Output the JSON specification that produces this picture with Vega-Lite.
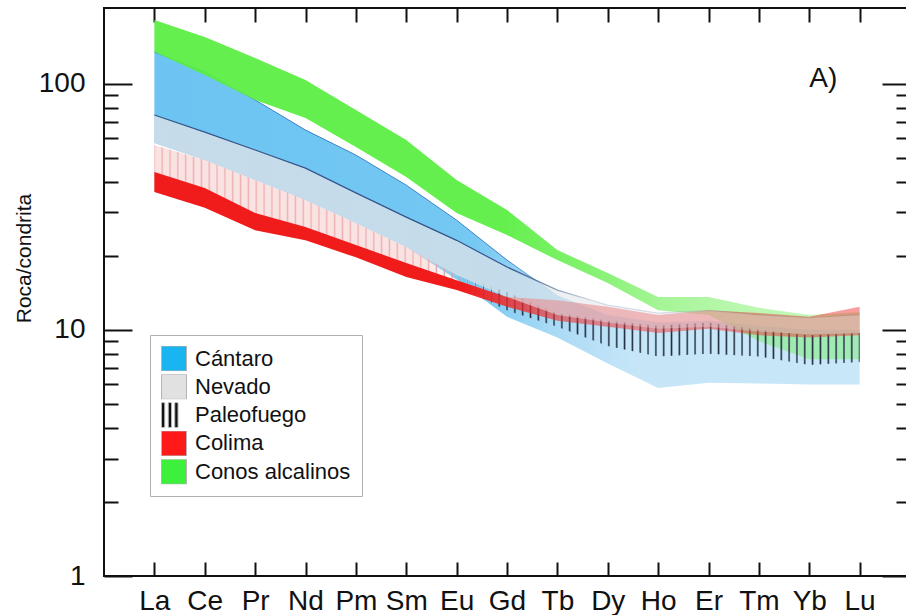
{
  "$schema": "https://vega.github.io/schema/vega-lite/v6.json",
  "width": 806,
  "height": 568,
  "autosize": "none",
  "padding": {"left": 104, "top": 8, "right": 0, "bottom": 39},
  "background": "white",
  "config": {
    "font": "Liberation Sans",
    "view": {"stroke": "#111111", "strokeWidth": 2},
    "axis": {"domain": false, "grid": false, "labelFont": "Liberation Sans", "labelColor": "#111111", "tickColor": "#111111", "tickWidth": 2, "tickCap": "butt", "titleFont": "Liberation Sans", "titleColor": "#111111", "labelOverlap": false, "zindex": 1}
  },
  "datasets": {
    "bandas": [
      {"g": "Cántaro", "el": "La", "hi": 134.5, "lo": 57.4},
      {"g": "Cántaro", "el": "Ce", "hi": 111.6, "lo": 49.0},
      {"g": "Cántaro", "el": "Pr", "hi": 85.9, "lo": 40.6},
      {"g": "Cántaro", "el": "Nd", "hi": 64.8, "lo": 33.7},
      {"g": "Cántaro", "el": "Pm", "hi": 51.3, "lo": 27.2},
      {"g": "Cántaro", "el": "Sm", "hi": 38.7, "lo": 21.7},
      {"g": "Cántaro", "el": "Eu", "hi": 27.9, "lo": 16.0},
      {"g": "Cántaro", "el": "Gd", "hi": 19.2, "lo": 11.3},
      {"g": "Cántaro", "el": "Tb", "hi": 13.8, "lo": 9.3},
      {"g": "Cántaro", "el": "Dy", "hi": 11.5, "lo": 7.3},
      {"g": "Cántaro", "el": "Ho", "hi": 10.7, "lo": 5.8},
      {"g": "Cántaro", "el": "Er", "hi": 10.9, "lo": 6.1},
      {"g": "Cántaro", "el": "Tm", "hi": 10.4, "lo": 6.05},
      {"g": "Cántaro", "el": "Yb", "hi": 10.0, "lo": 6.0},
      {"g": "Cántaro", "el": "Lu", "hi": 10.0, "lo": 6.0},

      {"g": "Nevado", "el": "La", "hi": 74.6, "lo": 57.4},
      {"g": "Nevado", "el": "Ce", "hi": 63.6, "lo": 49.0},
      {"g": "Nevado", "el": "Pr", "hi": 53.8, "lo": 40.6},
      {"g": "Nevado", "el": "Nd", "hi": 45.4, "lo": 33.7},
      {"g": "Nevado", "el": "Pm", "hi": 36.0, "lo": 27.2},
      {"g": "Nevado", "el": "Sm", "hi": 28.7, "lo": 21.7},
      {"g": "Nevado", "el": "Eu", "hi": 23.1, "lo": 16.7},
      {"g": "Nevado", "el": "Gd", "hi": 18.0, "lo": 13.6},
      {"g": "Nevado", "el": "Tb", "hi": 14.5, "lo": 11.5},
      {"g": "Nevado", "el": "Dy", "hi": 12.6, "lo": 10.7},
      {"g": "Nevado", "el": "Ho", "hi": 11.7, "lo": 10.1},
      {"g": "Nevado", "el": "Er", "hi": 12.0, "lo": 10.3},
      {"g": "Nevado", "el": "Tm", "hi": 11.5, "lo": 9.85},
      {"g": "Nevado", "el": "Yb", "hi": 11.2, "lo": 9.6},
      {"g": "Nevado", "el": "Lu", "hi": 11.5, "lo": 9.7},

      {"g": "Paleofuego", "el": "La", "hi": 56.3, "lo": 36.3},
      {"g": "Paleofuego", "el": "Ce", "hi": 49.0, "lo": 31.5},
      {"g": "Paleofuego", "el": "Pr", "hi": 40.6, "lo": 25.4},
      {"g": "Paleofuego", "el": "Nd", "hi": 33.7, "lo": 23.1},
      {"g": "Paleofuego", "el": "Pm", "hi": 27.2, "lo": 20.1},
      {"g": "Paleofuego", "el": "Sm", "hi": 21.7, "lo": 17.8},
      {"g": "Paleofuego", "el": "Eu", "hi": 16.9, "lo": 15.0},
      {"g": "Paleofuego", "el": "Gd", "hi": 14.2, "lo": 12.0},
      {"g": "Paleofuego", "el": "Tb", "hi": 11.7, "lo": 10.3},
      {"g": "Paleofuego", "el": "Dy", "hi": 10.9, "lo": 8.6},
      {"g": "Paleofuego", "el": "Ho", "hi": 10.4, "lo": 7.8},
      {"g": "Paleofuego", "el": "Er", "hi": 10.7, "lo": 8.0},
      {"g": "Paleofuego", "el": "Tm", "hi": 10.0, "lo": 7.8},
      {"g": "Paleofuego", "el": "Yb", "hi": 9.5, "lo": 7.2},
      {"g": "Paleofuego", "el": "Lu", "hi": 9.7, "lo": 7.4},

      {"g": "Colima", "el": "La", "hi": 43.8, "lo": 36.3},
      {"g": "Colima", "el": "Ce", "hi": 37.7, "lo": 31.3},
      {"g": "Colima", "el": "Pr", "hi": 29.8, "lo": 25.4},
      {"g": "Colima", "el": "Nd", "hi": 26.2, "lo": 23.1},
      {"g": "Colima", "el": "Pm", "hi": 22.1, "lo": 19.7},
      {"g": "Colima", "el": "Sm", "hi": 18.7, "lo": 16.4},
      {"g": "Colima", "el": "Eu", "hi": 15.9, "lo": 14.5},
      {"g": "Colima", "el": "Gd", "hi": 13.6, "lo": 12.4},
      {"g": "Colima", "el": "Tb", "hi": 13.2, "lo": 10.9},
      {"g": "Colima", "el": "Dy", "hi": 12.4, "lo": 10.3},
      {"g": "Colima", "el": "Ho", "hi": 11.5, "lo": 9.7},
      {"g": "Colima", "el": "Er", "hi": 12.0, "lo": 10.1},
      {"g": "Colima", "el": "Tm", "hi": 11.7, "lo": 9.5},
      {"g": "Colima", "el": "Yb", "hi": 11.3, "lo": 9.3},
      {"g": "Colima", "el": "Lu", "hi": 12.4, "lo": 9.5},

      {"g": "Conos alcalinos", "el": "La", "hi": 181.5, "lo": 134.5},
      {"g": "Conos alcalinos", "el": "Ce", "hi": 154.8, "lo": 108.5},
      {"g": "Conos alcalinos", "el": "Pr", "hi": 127.2, "lo": 85.9},
      {"g": "Conos alcalinos", "el": "Nd", "hi": 103.5, "lo": 72.6},
      {"g": "Conos alcalinos", "el": "Pm", "hi": 78.2, "lo": 55.3},
      {"g": "Conos alcalinos", "el": "Sm", "hi": 59.0, "lo": 41.8},
      {"g": "Conos alcalinos", "el": "Eu", "hi": 40.6, "lo": 29.8},
      {"g": "Conos alcalinos", "el": "Gd", "hi": 30.7, "lo": 24.3},
      {"g": "Conos alcalinos", "el": "Tb", "hi": 21.1, "lo": 19.2},
      {"g": "Conos alcalinos", "el": "Dy", "hi": 17.0, "lo": 15.5},
      {"g": "Conos alcalinos", "el": "Ho", "hi": 13.6, "lo": 12.0},
      {"g": "Conos alcalinos", "el": "Er", "hi": 13.6, "lo": 11.5},
      {"g": "Conos alcalinos", "el": "Tm", "hi": 12.3, "lo": 9.0},
      {"g": "Conos alcalinos", "el": "Yb", "hi": 11.5, "lo": 7.6},
      {"g": "Conos alcalinos", "el": "Lu", "hi": 11.8, "lo": 7.6}
    ]
  },
  "data": {"name": "bandas"},
  "encoding": {
    "x": {"field": "el", "type": "ordinal", "axis": null,
      "scale": {"type": "point", "padding": 1, "domain": ["La", "Ce", "Pr", "Nd", "Pm", "Sm", "Eu", "Gd", "Tb", "Dy", "Ho", "Er", "Tm", "Yb", "Lu"]}},
    "y": {"field": "hi", "type": "quantitative", "axis": null,
      "scale": {"type": "log", "domain": [1, 203], "nice": false}},
    "y2": {"field": "lo"}
  },
  "layer": [
    {
      "transform": [{"filter": "datum.g === 'Cántaro'"}],
      "mark": {"type": "area", "color": {"gradient": "linear", "x1": 0, "y1": 0, "x2": 1, "y2": 0, "stops": [
        {"offset": 0, "color": "#6cc4f2"}, {"offset": 0.45, "color": "#74c8f2"}, {"offset": 0.56, "color": "#a8d9f5"},
        {"offset": 0.68, "color": "#c6e6f8"}, {"offset": 1, "color": "#c8e7f8"}]}},
      "encoding": {
        "x": {"field": "el", "type": "ordinal",
          "axis": {"orient": "bottom", "title": null, "labelAngle": 0, "labelFontSize": 28, "labelPadding": 11, "tickSize": 14, "offset": -14}},
        "y": {"field": "hi", "type": "quantitative",
          "axis": {"orient": "left", "title": "Roca/condrita", "titleFontSize": 21, "titleFontWeight": "normal",
            "titleX": -108, "titleY": 250, "titleAngle": -90, "titleAlign": "center", "titleBaseline": "middle",
            "values": [1, 10, 100], "format": "d",
            "labelFontSize": 28, "labelPadding": 19, "tickSize": 28, "offset": -28}}
      }
    },
    {
      "transform": [{"filter": "datum.g === 'Cántaro'"}],
      "mark": {"type": "line", "strokeWidth": 1, "color": {"gradient": "linear", "x1": 0, "y1": 0, "x2": 1, "y2": 0, "stops": [
        {"offset": 0, "color": "#3c82c8"}, {"offset": 0.5, "color": "#3c82c8"}, {"offset": 0.58, "color": "#3c82c800"}, {"offset": 1, "color": "#3c82c800"}]}},
      "encoding": {
        "y": {"field": "hi", "type": "quantitative",
          "axis": {"orient": "left", "title": null, "labels": false, "tickSize": 14, "offset": -14,
            "values": [2, 3, 4, 5, 6, 7, 8, 9, 20, 30, 40, 50, 60, 70, 80, 90]}},
        "y2": null
      }
    },
    {
      "transform": [{"filter": "datum.g === 'Conos alcalinos'"}],
      "mark": {"type": "area", "color": {"gradient": "linear", "x1": 0, "y1": 0, "x2": 1, "y2": 0, "stops": [
        {"offset": 0, "color": "#5aee42ee"}, {"offset": 0.5, "color": "#5aee42ee"}, {"offset": 0.62, "color": "#62ee4ac8"},
        {"offset": 0.72, "color": "#6aee5299"}, {"offset": 0.85, "color": "#6aee5270"}, {"offset": 1, "color": "#6aee5266"}]}},
      "encoding": {
        "x": {"field": "el", "type": "ordinal",
          "axis": {"orient": "top", "title": null, "labels": false, "tickSize": 14, "offset": -14}},
        "y": {"field": "hi", "type": "quantitative",
          "axis": {"orient": "right", "title": null, "labels": false, "tickSize": 28, "offset": -28, "values": [1, 10, 100]}}
      }
    },
    {
      "transform": [{"filter": "datum.g === 'Paleofuego'"}],
      "mark": {"type": "area", "color": {"gradient": "linear", "x1": 0, "y1": 0, "x2": 1, "y2": 0, "stops": [
        {"offset": 0, "color": "#eeb0b0"}, {"offset": 0.0021, "color": "#f7d6d6b3"},
        {"offset": 0.009, "color": "#f7d6d6b3"}, {"offset": 0.0111, "color": "#eeb0b0"}, {"offset": 0.0132, "color": "#f7d6d6b3"},
        {"offset": 0.0201, "color": "#f7d6d6b3"}, {"offset": 0.0222, "color": "#eeb0b0"}, {"offset": 0.0243, "color": "#f7d6d6b3"},
        {"offset": 0.0312, "color": "#f7d6d6b3"}, {"offset": 0.0333, "color": "#eeb0b0"}, {"offset": 0.0354, "color": "#f7d6d6b3"},
        {"offset": 0.0423, "color": "#f7d6d6b3"}, {"offset": 0.0444, "color": "#eeb0b0"}, {"offset": 0.0465, "color": "#f7d6d6b3"},
        {"offset": 0.0535, "color": "#f7d6d6b3"}, {"offset": 0.0556, "color": "#eeb0b0"}, {"offset": 0.0577, "color": "#f7d6d6b3"},
        {"offset": 0.0646, "color": "#f7d6d6b3"}, {"offset": 0.0667, "color": "#eeb0b0"}, {"offset": 0.0688, "color": "#f7d6d6b3"},
        {"offset": 0.0757, "color": "#f7d6d6b3"}, {"offset": 0.0778, "color": "#eeb0b0"}, {"offset": 0.0799, "color": "#f7d6d6b3"},
        {"offset": 0.0868, "color": "#f7d6d6b3"}, {"offset": 0.0889, "color": "#eeb0b0"}, {"offset": 0.091, "color": "#f7d6d6b3"},
        {"offset": 0.0979, "color": "#f7d6d6b3"}, {"offset": 0.1, "color": "#eeb0b0"}, {"offset": 0.1021, "color": "#f7d6d6b3"},
        {"offset": 0.109, "color": "#f7d6d6b3"}, {"offset": 0.1111, "color": "#eeb0b0"}, {"offset": 0.1132, "color": "#f7d6d6b3"},
        {"offset": 0.1201, "color": "#f7d6d6b3"}, {"offset": 0.1222, "color": "#eeb0b0"}, {"offset": 0.1243, "color": "#f7d6d6b3"},
        {"offset": 0.1312, "color": "#f7d6d6b3"}, {"offset": 0.1333, "color": "#eeb0b0"}, {"offset": 0.1354, "color": "#f7d6d6b3"},
        {"offset": 0.1423, "color": "#f7d6d6b3"}, {"offset": 0.1444, "color": "#eeb0b0"}, {"offset": 0.1465, "color": "#f7d6d6b3"},
        {"offset": 0.1535, "color": "#f7d6d6b3"}, {"offset": 0.1556, "color": "#eeb0b0"}, {"offset": 0.1577, "color": "#f7d6d6b3"},
        {"offset": 0.1646, "color": "#f7d6d6b3"}, {"offset": 0.1667, "color": "#eeb0b0"}, {"offset": 0.1688, "color": "#f7d6d6b3"},
        {"offset": 0.1757, "color": "#f7d6d6b3"}, {"offset": 0.1778, "color": "#eeb0b0"}, {"offset": 0.1799, "color": "#f7d6d6b3"},
        {"offset": 0.1868, "color": "#f7d6d6b3"}, {"offset": 0.1889, "color": "#eeb0b0"}, {"offset": 0.191, "color": "#f7d6d6b3"},
        {"offset": 0.1979, "color": "#f7d6d6b3"}, {"offset": 0.2, "color": "#eeb0b0"}, {"offset": 0.2021, "color": "#f7d6d6b3"},
        {"offset": 0.209, "color": "#f7d6d6b3"}, {"offset": 0.2111, "color": "#eeb0b0"}, {"offset": 0.2132, "color": "#f7d6d6b3"},
        {"offset": 0.2201, "color": "#f7d6d6b3"}, {"offset": 0.2222, "color": "#eeb0b0"}, {"offset": 0.2243, "color": "#f7d6d6b3"},
        {"offset": 0.2312, "color": "#f7d6d6b3"}, {"offset": 0.2333, "color": "#eeb0b0"}, {"offset": 0.2354, "color": "#f7d6d6b3"},
        {"offset": 0.2423, "color": "#f7d6d6b3"}, {"offset": 0.2444, "color": "#eeb0b0"}, {"offset": 0.2465, "color": "#f7d6d6b3"},
        {"offset": 0.2535, "color": "#f7d6d6b3"}, {"offset": 0.2556, "color": "#eeb0b0"}, {"offset": 0.2577, "color": "#f7d6d6b3"},
        {"offset": 0.2646, "color": "#f7d6d6b3"}, {"offset": 0.2667, "color": "#eeb0b0"}, {"offset": 0.2688, "color": "#f7d6d6b3"},
        {"offset": 0.2757, "color": "#f7d6d6b3"}, {"offset": 0.2778, "color": "#eeb0b0"}, {"offset": 0.2799, "color": "#f7d6d6b3"},
        {"offset": 0.2868, "color": "#f7d6d6b3"}, {"offset": 0.2889, "color": "#eeb0b0"}, {"offset": 0.291, "color": "#f7d6d6b3"},
        {"offset": 0.2979, "color": "#f7d6d6b3"}, {"offset": 0.3, "color": "#eeb0b0"}, {"offset": 0.3021, "color": "#f7d6d6b3"},
        {"offset": 0.309, "color": "#f7d6d6b3"}, {"offset": 0.3111, "color": "#eeb0b0"}, {"offset": 0.3132, "color": "#f7d6d6b3"},
        {"offset": 0.3201, "color": "#f7d6d6b3"}, {"offset": 0.3222, "color": "#eeb0b0"}, {"offset": 0.3243, "color": "#f7d6d6b3"},
        {"offset": 0.3312, "color": "#f7d6d6b3"}, {"offset": 0.3333, "color": "#eeb0b0"}, {"offset": 0.3354, "color": "#f7d6d6b3"},
        {"offset": 0.3423, "color": "#f7d6d6b3"}, {"offset": 0.3444, "color": "#eeb0b0"}, {"offset": 0.3465, "color": "#f7d6d6b3"},
        {"offset": 0.3535, "color": "#f7d6d6b3"}, {"offset": 0.3556, "color": "#eeb0b0"}, {"offset": 0.3577, "color": "#f7d6d6b3"},
        {"offset": 0.3646, "color": "#f7d6d6b3"}, {"offset": 0.3667, "color": "#eeb0b0"}, {"offset": 0.3688, "color": "#f7d6d6b3"},
        {"offset": 0.3757, "color": "#f7d6d6b3"}, {"offset": 0.3778, "color": "#eeb0b0"}, {"offset": 0.3799, "color": "#f7d6d6a0"},
        {"offset": 0.3868, "color": "#f7d6d6a0"}, {"offset": 0.3889, "color": "#e8acb0"}, {"offset": 0.391, "color": "#f7d6d680"},
        {"offset": 0.3979, "color": "#f7d6d680"}, {"offset": 0.4, "color": "#d8a8b0"}, {"offset": 0.4021, "color": "#f7d6d660"},
        {"offset": 0.409, "color": "#f7d6d660"}, {"offset": 0.4111, "color": "#c8a0a8"}, {"offset": 0.4132, "color": "#f7d6d640"},
        {"offset": 0.4201, "color": "#f7d6d640"}, {"offset": 0.4222, "color": "#b898a4"}, {"offset": 0.4243, "color": "#f7d6d620"},
        {"offset": 0.4312, "color": "#f7d6d620"}, {"offset": 0.4333, "color": "#a08c9c"}, {"offset": 0.4354, "color": "#ffffff00"},
        {"offset": 0.4423, "color": "#ffffff00"}, {"offset": 0.4444, "color": "#887c90"}, {"offset": 0.4465, "color": "#ffffff00"},
        {"offset": 0.4535, "color": "#ffffff00"}, {"offset": 0.4556, "color": "#6c6c80"}, {"offset": 0.4577, "color": "#ffffff00"},
        {"offset": 0.4646, "color": "#ffffff00"}, {"offset": 0.4667, "color": "#505a6c"}, {"offset": 0.4688, "color": "#ffffff00"},
        {"offset": 0.4757, "color": "#ffffff00"}, {"offset": 0.4778, "color": "#3a4858"}, {"offset": 0.4799, "color": "#ffffff00"},
        {"offset": 0.4868, "color": "#1e2c3a00"}, {"offset": 0.4889, "color": "#1e2c3a"}, {"offset": 0.491, "color": "#1e2c3a00"},
        {"offset": 0.4979, "color": "#1e2c3a00"}, {"offset": 0.5, "color": "#1e2c3a"}, {"offset": 0.5021, "color": "#1e2c3a00"},
        {"offset": 0.509, "color": "#1e2c3a00"}, {"offset": 0.5111, "color": "#1e2c3a"}, {"offset": 0.5132, "color": "#1e2c3a00"},
        {"offset": 0.5201, "color": "#1e2c3a00"}, {"offset": 0.5222, "color": "#1e2c3a"}, {"offset": 0.5243, "color": "#1e2c3a00"},
        {"offset": 0.5312, "color": "#1e2c3a00"}, {"offset": 0.5333, "color": "#1e2c3a"}, {"offset": 0.5354, "color": "#1e2c3a00"},
        {"offset": 0.5423, "color": "#1e2c3a00"}, {"offset": 0.5444, "color": "#1e2c3a"}, {"offset": 0.5465, "color": "#1e2c3a00"},
        {"offset": 0.5535, "color": "#1e2c3a00"}, {"offset": 0.5556, "color": "#1e2c3a"}, {"offset": 0.5577, "color": "#1e2c3a00"},
        {"offset": 0.5646, "color": "#1e2c3a00"}, {"offset": 0.5667, "color": "#1e2c3a"}, {"offset": 0.5688, "color": "#1e2c3a00"},
        {"offset": 0.5757, "color": "#1e2c3a00"}, {"offset": 0.5778, "color": "#1e2c3a"}, {"offset": 0.5799, "color": "#1e2c3a00"},
        {"offset": 0.5868, "color": "#1e2c3a00"}, {"offset": 0.5889, "color": "#1e2c3a"}, {"offset": 0.591, "color": "#1e2c3a00"},
        {"offset": 0.5979, "color": "#1e2c3a00"}, {"offset": 0.6, "color": "#1e2c3a"}, {"offset": 0.6021, "color": "#1e2c3a00"},
        {"offset": 0.609, "color": "#1e2c3a00"}, {"offset": 0.6111, "color": "#1e2c3a"}, {"offset": 0.6132, "color": "#1e2c3a00"},
        {"offset": 0.6201, "color": "#1e2c3a00"}, {"offset": 0.6222, "color": "#1e2c3a"}, {"offset": 0.6243, "color": "#1e2c3a00"},
        {"offset": 0.6312, "color": "#1e2c3a00"}, {"offset": 0.6333, "color": "#1e2c3a"}, {"offset": 0.6354, "color": "#1e2c3a00"},
        {"offset": 0.6423, "color": "#1e2c3a00"}, {"offset": 0.6444, "color": "#1e2c3a"}, {"offset": 0.6465, "color": "#1e2c3a00"},
        {"offset": 0.6535, "color": "#1e2c3a00"}, {"offset": 0.6556, "color": "#1e2c3a"}, {"offset": 0.6577, "color": "#1e2c3a00"},
        {"offset": 0.6646, "color": "#1e2c3a00"}, {"offset": 0.6667, "color": "#1e2c3a"}, {"offset": 0.6688, "color": "#1e2c3a00"},
        {"offset": 0.6757, "color": "#1e2c3a00"}, {"offset": 0.6778, "color": "#1e2c3a"}, {"offset": 0.6799, "color": "#1e2c3a00"},
        {"offset": 0.6868, "color": "#1e2c3a00"}, {"offset": 0.6889, "color": "#1e2c3a"}, {"offset": 0.691, "color": "#1e2c3a00"},
        {"offset": 0.6979, "color": "#1e2c3a00"}, {"offset": 0.7, "color": "#1e2c3a"}, {"offset": 0.7021, "color": "#1e2c3a00"},
        {"offset": 0.709, "color": "#1e2c3a00"}, {"offset": 0.7111, "color": "#1e2c3a"}, {"offset": 0.7132, "color": "#1e2c3a00"},
        {"offset": 0.7201, "color": "#1e2c3a00"}, {"offset": 0.7222, "color": "#1e2c3a"}, {"offset": 0.7243, "color": "#1e2c3a00"},
        {"offset": 0.7312, "color": "#1e2c3a00"}, {"offset": 0.7333, "color": "#1e2c3a"}, {"offset": 0.7354, "color": "#1e2c3a00"},
        {"offset": 0.7423, "color": "#1e2c3a00"}, {"offset": 0.7444, "color": "#1e2c3a"}, {"offset": 0.7465, "color": "#1e2c3a00"},
        {"offset": 0.7535, "color": "#1e2c3a00"}, {"offset": 0.7556, "color": "#1e2c3a"}, {"offset": 0.7577, "color": "#1e2c3a00"},
        {"offset": 0.7646, "color": "#1e2c3a00"}, {"offset": 0.7667, "color": "#1e2c3a"}, {"offset": 0.7688, "color": "#1e2c3a00"},
        {"offset": 0.7757, "color": "#1e2c3a00"}, {"offset": 0.7778, "color": "#1e2c3a"}, {"offset": 0.7799, "color": "#1e2c3a00"},
        {"offset": 0.7868, "color": "#1e2c3a00"}, {"offset": 0.7889, "color": "#1e2c3a"}, {"offset": 0.791, "color": "#1e2c3a00"},
        {"offset": 0.7979, "color": "#1e2c3a00"}, {"offset": 0.8, "color": "#1e2c3a"}, {"offset": 0.8021, "color": "#1e2c3a00"},
        {"offset": 0.809, "color": "#1e2c3a00"}, {"offset": 0.8111, "color": "#1e2c3a"}, {"offset": 0.8132, "color": "#1e2c3a00"},
        {"offset": 0.8201, "color": "#1e2c3a00"}, {"offset": 0.8222, "color": "#1e2c3a"}, {"offset": 0.8243, "color": "#1e2c3a00"},
        {"offset": 0.8312, "color": "#1e2c3a00"}, {"offset": 0.8333, "color": "#1e2c3a"}, {"offset": 0.8354, "color": "#1e2c3a00"},
        {"offset": 0.8423, "color": "#1e2c3a00"}, {"offset": 0.8444, "color": "#1e2c3a"}, {"offset": 0.8465, "color": "#1e2c3a00"},
        {"offset": 0.8535, "color": "#1e2c3a00"}, {"offset": 0.8556, "color": "#1e2c3a"}, {"offset": 0.8577, "color": "#1e2c3a00"},
        {"offset": 0.8646, "color": "#1e2c3a00"}, {"offset": 0.8667, "color": "#1e2c3a"}, {"offset": 0.8688, "color": "#1e2c3a00"},
        {"offset": 0.8757, "color": "#1e2c3a00"}, {"offset": 0.8778, "color": "#1e2c3a"}, {"offset": 0.8799, "color": "#1e2c3a00"},
        {"offset": 0.8868, "color": "#1e2c3a00"}, {"offset": 0.8889, "color": "#1e2c3a"}, {"offset": 0.891, "color": "#1e2c3a00"},
        {"offset": 0.8979, "color": "#1e2c3a00"}, {"offset": 0.9, "color": "#1e2c3a"}, {"offset": 0.9021, "color": "#1e2c3a00"},
        {"offset": 0.909, "color": "#1e2c3a00"}, {"offset": 0.9111, "color": "#1e2c3a"}, {"offset": 0.9132, "color": "#1e2c3a00"},
        {"offset": 0.9201, "color": "#1e2c3a00"}, {"offset": 0.9222, "color": "#1e2c3a"}, {"offset": 0.9243, "color": "#1e2c3a00"},
        {"offset": 0.9312, "color": "#1e2c3a00"}, {"offset": 0.9333, "color": "#1e2c3a"}, {"offset": 0.9354, "color": "#1e2c3a00"},
        {"offset": 0.9423, "color": "#1e2c3a00"}, {"offset": 0.9444, "color": "#1e2c3a"}, {"offset": 0.9465, "color": "#1e2c3a00"},
        {"offset": 0.9535, "color": "#1e2c3a00"}, {"offset": 0.9556, "color": "#1e2c3a"}, {"offset": 0.9577, "color": "#1e2c3a00"},
        {"offset": 0.9646, "color": "#1e2c3a00"}, {"offset": 0.9667, "color": "#1e2c3a"}, {"offset": 0.9688, "color": "#1e2c3a00"},
        {"offset": 0.9757, "color": "#1e2c3a00"}, {"offset": 0.9778, "color": "#1e2c3a"}, {"offset": 0.9799, "color": "#1e2c3a00"},
        {"offset": 0.9868, "color": "#1e2c3a00"}, {"offset": 0.9889, "color": "#1e2c3a"}, {"offset": 0.991, "color": "#1e2c3a00"},
        {"offset": 0.9979, "color": "#1e2c3a00"}, {"offset": 1, "color": "#1e2c3a"}
      ]}},
      "encoding": {
        "y": {"field": "hi", "type": "quantitative",
          "axis": {"orient": "right", "title": null, "labels": false, "tickSize": 14, "offset": -14,
            "values": [2, 3, 4, 5, 6, 7, 8, 9, 20, 30, 40, 50, 60, 70, 80, 90]}}
      }
    },
    {
      "transform": [{"filter": "datum.g === 'Colima'"}],
      "mark": {"type": "area", "color": {"gradient": "linear", "x1": 0, "y1": 0, "x2": 1, "y2": 0, "stops": [
        {"offset": 0, "color": "#f01c1c"}, {"offset": 0.44, "color": "#f01c1c"}, {"offset": 0.5, "color": "#f02424d0"},
        {"offset": 0.58, "color": "#f0282890"}, {"offset": 0.7, "color": "#f0303078"}, {"offset": 1, "color": "#f0303078"}]}}
    },
    {
      "transform": [{"filter": "datum.g === 'Nevado'"}],
      "mark": {"type": "area", "color": {"gradient": "linear", "x1": 0, "y1": 0, "x2": 1, "y2": 0, "stops": [
        {"offset": 0, "color": "#dfe2e7c8"}, {"offset": 0.45, "color": "#dfe2e7c0"}, {"offset": 0.6, "color": "#dfe2e780"},
        {"offset": 0.72, "color": "#dfe2e760"}, {"offset": 1, "color": "#dfe2e760"}]}}
    },
    {
      "transform": [{"filter": "datum.g === 'Nevado'"}],
      "mark": {"type": "line", "strokeWidth": 1.2, "color": {"gradient": "linear", "x1": 0, "y1": 0, "x2": 1, "y2": 0, "stops": [
        {"offset": 0, "color": "#36548a"}, {"offset": 0.5, "color": "#36548a"}, {"offset": 0.62, "color": "#36548a30"}, {"offset": 1, "color": "#36548a20"}]}},
      "encoding": {"y2": null}
    },
    {
      "mark": {"type": "area", "fillOpacity": 0, "strokeOpacity": 0},
      "encoding": {
        "fill": {"field": "g", "type": "nominal",
          "scale": {"domain": ["Cántaro", "Nevado", "Paleofuego", "Colima", "Conos alcalinos"],
            "range": ["#1ab4f0", "#e1e1e1", "#111111", "#ff1a1a", "#3cf03c"]},
          "legend": {"orient": "none", "legendX": 46, "legendY": 327, "direction": "vertical", "title": null,
            "symbolType": "square", "symbolSize": 625, "clipHeight": 25,
            "labelFontSize": 22, "labelFont": "Liberation Sans", "labelColor": "#111111", "labelOffset": 8,
            "rowPadding": 3.3, "padding": 11, "strokeColor": "#b0b0b0", "fillColor": "#ffffff",
            "encode": {"symbols": {"update": {
              "opacity": {"value": 1},
              "fillOpacity": {"value": 1},
              "strokeOpacity": {"value": 1},
              "stroke": {"value": "#b4b4b4"},
              "strokeWidth": {"value": 1},
              "shape": {"signal": "datum.value === 'Paleofuego' ? 'M-1,-1H-0.74V1H-1Z M-0.46,-1H-0.2V1H-0.46Z M0.06,-1H0.32V1H0.06Z' : 'square'"}
            }}}}
        }
      }
    },
    {
      "data": {"values": [{"rotulo": "A)", "el": "Yb", "v": 104}]},
      "mark": {"type": "text", "align": "left", "baseline": "middle", "fontSize": 28, "font": "Liberation Sans", "color": "#111111"},
      "encoding": {
        "x": {"field": "el", "type": "ordinal", "axis": null},
        "y": {"field": "v", "type": "quantitative", "axis": null},
        "y2": null,
        "text": {"field": "rotulo"}
      }
    }
  ],
  "resolve": {"axis": {"x": "independent", "y": "independent"}}
}
